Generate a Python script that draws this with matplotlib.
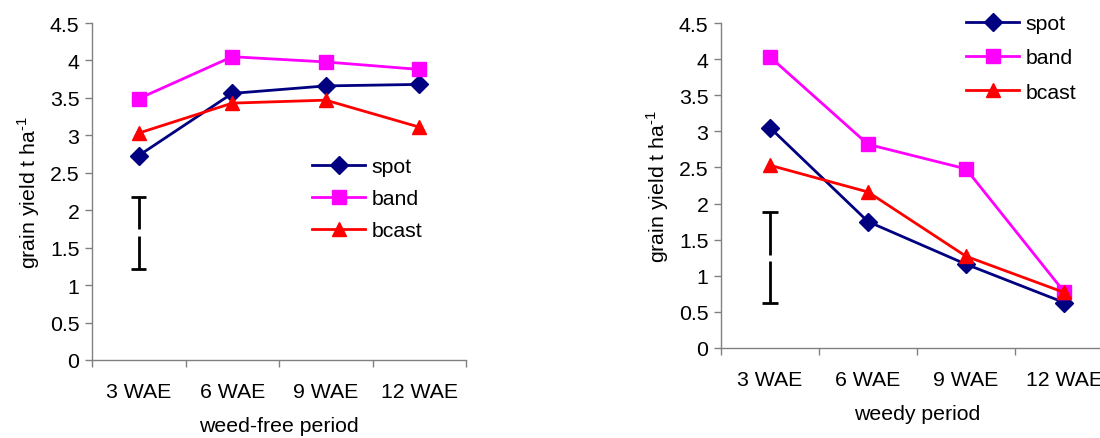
import matplotlib
matplotlib.use("Agg")
import matplotlib.pyplot as plt

categories = ["3 WAE", "6 WAE", "9 WAE", "12 WAE"]
series_names = ["spot", "band", "bcast"]

free_spot = [2.73, 3.56, 3.66, 3.68]
free_band = [3.49, 4.05, 3.98, 3.88]
free_bcast = [3.03, 3.43, 3.47, 3.11]
free_lsd = [1.22, 1.66, 1.75, 2.18]  # bottom, gap-low, gap-high, top

weedy_spot = [3.05, 1.75, 1.16, 0.63]
weedy_band = [4.03, 2.82, 2.48, 0.78]
weedy_bcast = [2.53, 2.16, 1.27, 0.77]
weedy_lsd = [0.62, 1.21, 1.29, 1.88]

yticks = [0, 0.5, 1, 1.5, 2, 2.5, 3, 3.5, 4, 4.5]
ytick_labels = ["0", "0.5", "1", "1.5", "2", "2.5", "3", "3.5", "4", "4.5"]

plt.rcParams['font.family'] = ['Liberation Sans', 'DejaVu Sans']
plt.rcParams['mathtext.fontset'] = 'custom'
plt.rcParams['mathtext.rm'] = 'Liberation Sans'
FS = 15.3
GRAY = "#808080"

fig = plt.figure(figsize=(11, 4.39), dpi=100)
ax1 = fig.add_axes([92/1100, 1-361/439, 374/1100, 337/439])
ax2 = fig.add_axes([721/1100, 1-349/439, 392/1100, 325/439])

styles = [
    dict(color="#000080", marker="D", markersize=9),
    dict(color="#FF00FF", marker="s", markersize=10),
    dict(color="#FF0000", marker="^", markersize=10.5),
]

def draw(ax, data, lsd, xlabel, leg_anchor, tickpad, labelpad, lspace):
    xs = [i + 0.5 for i in range(len(categories))]
    for name, vals, st in zip(series_names, data, styles):
        ax.plot(xs, vals, label=name, linewidth=2, markeredgecolor=st["color"],
                clip_on=False, **st)
    # LSD bar with small gap
    x0 = xs[0]
    ax.vlines(x0, lsd[0], lsd[1], color="black", linewidth=2)
    ax.vlines(x0, lsd[2], lsd[3], color="black", linewidth=2)
    ax.hlines([lsd[0], lsd[3]], x0 - 0.08, x0 + 0.08, color="black", linewidth=2)
    ax.set_xlim(0, len(categories))
    ax.set_ylim(0, 4.5)
    ax.set_yticks(yticks)
    ax.set_yticklabels(ytick_labels, fontsize=FS)
    ax.set_xticks(range(len(categories) + 1))
    ax.set_xticklabels([])
    ax.set_xticks(xs, minor=True)
    ax.set_xticklabels(categories, minor=True, fontsize=FS)
    ax.tick_params(axis="x", which="minor", length=0, pad=tickpad)
    ax.tick_params(axis="both", which="major", length=5, color=GRAY, width=1)
    ax.tick_params(axis="y", pad=4)
    for s in ["top", "right"]:
        ax.spines[s].set_visible(False)
    for s in ["left", "bottom"]:
        ax.spines[s].set_color(GRAY)
        ax.spines[s].set_linewidth(1)
    ax.set_xlabel(xlabel, fontsize=FS, labelpad=labelpad)
    ax.set_ylabel(r"grain yield t ha$^{\mathrm{\text{-}1}}$", fontsize=FS, labelpad=6)
    ax.legend(loc="upper left", bbox_to_anchor=leg_anchor,
              bbox_transform=fig.transFigure, frameon=False,
              fontsize=FS, handlelength=2.5, handletextpad=0.3,
              labelspacing=lspace, borderpad=0, borderaxespad=0)

draw(ax1, [free_spot, free_band, free_bcast], free_lsd, "weed-free period",
     (312/1100, 1-158/439), 16, 11, 0.62)
draw(ax2, [weedy_spot, weedy_band, weedy_bcast], weedy_lsd, "weedy period",
     (966/1100, 1-15/439), 16, 11, 0.72)

fig.savefig("out.png", dpi=100)
